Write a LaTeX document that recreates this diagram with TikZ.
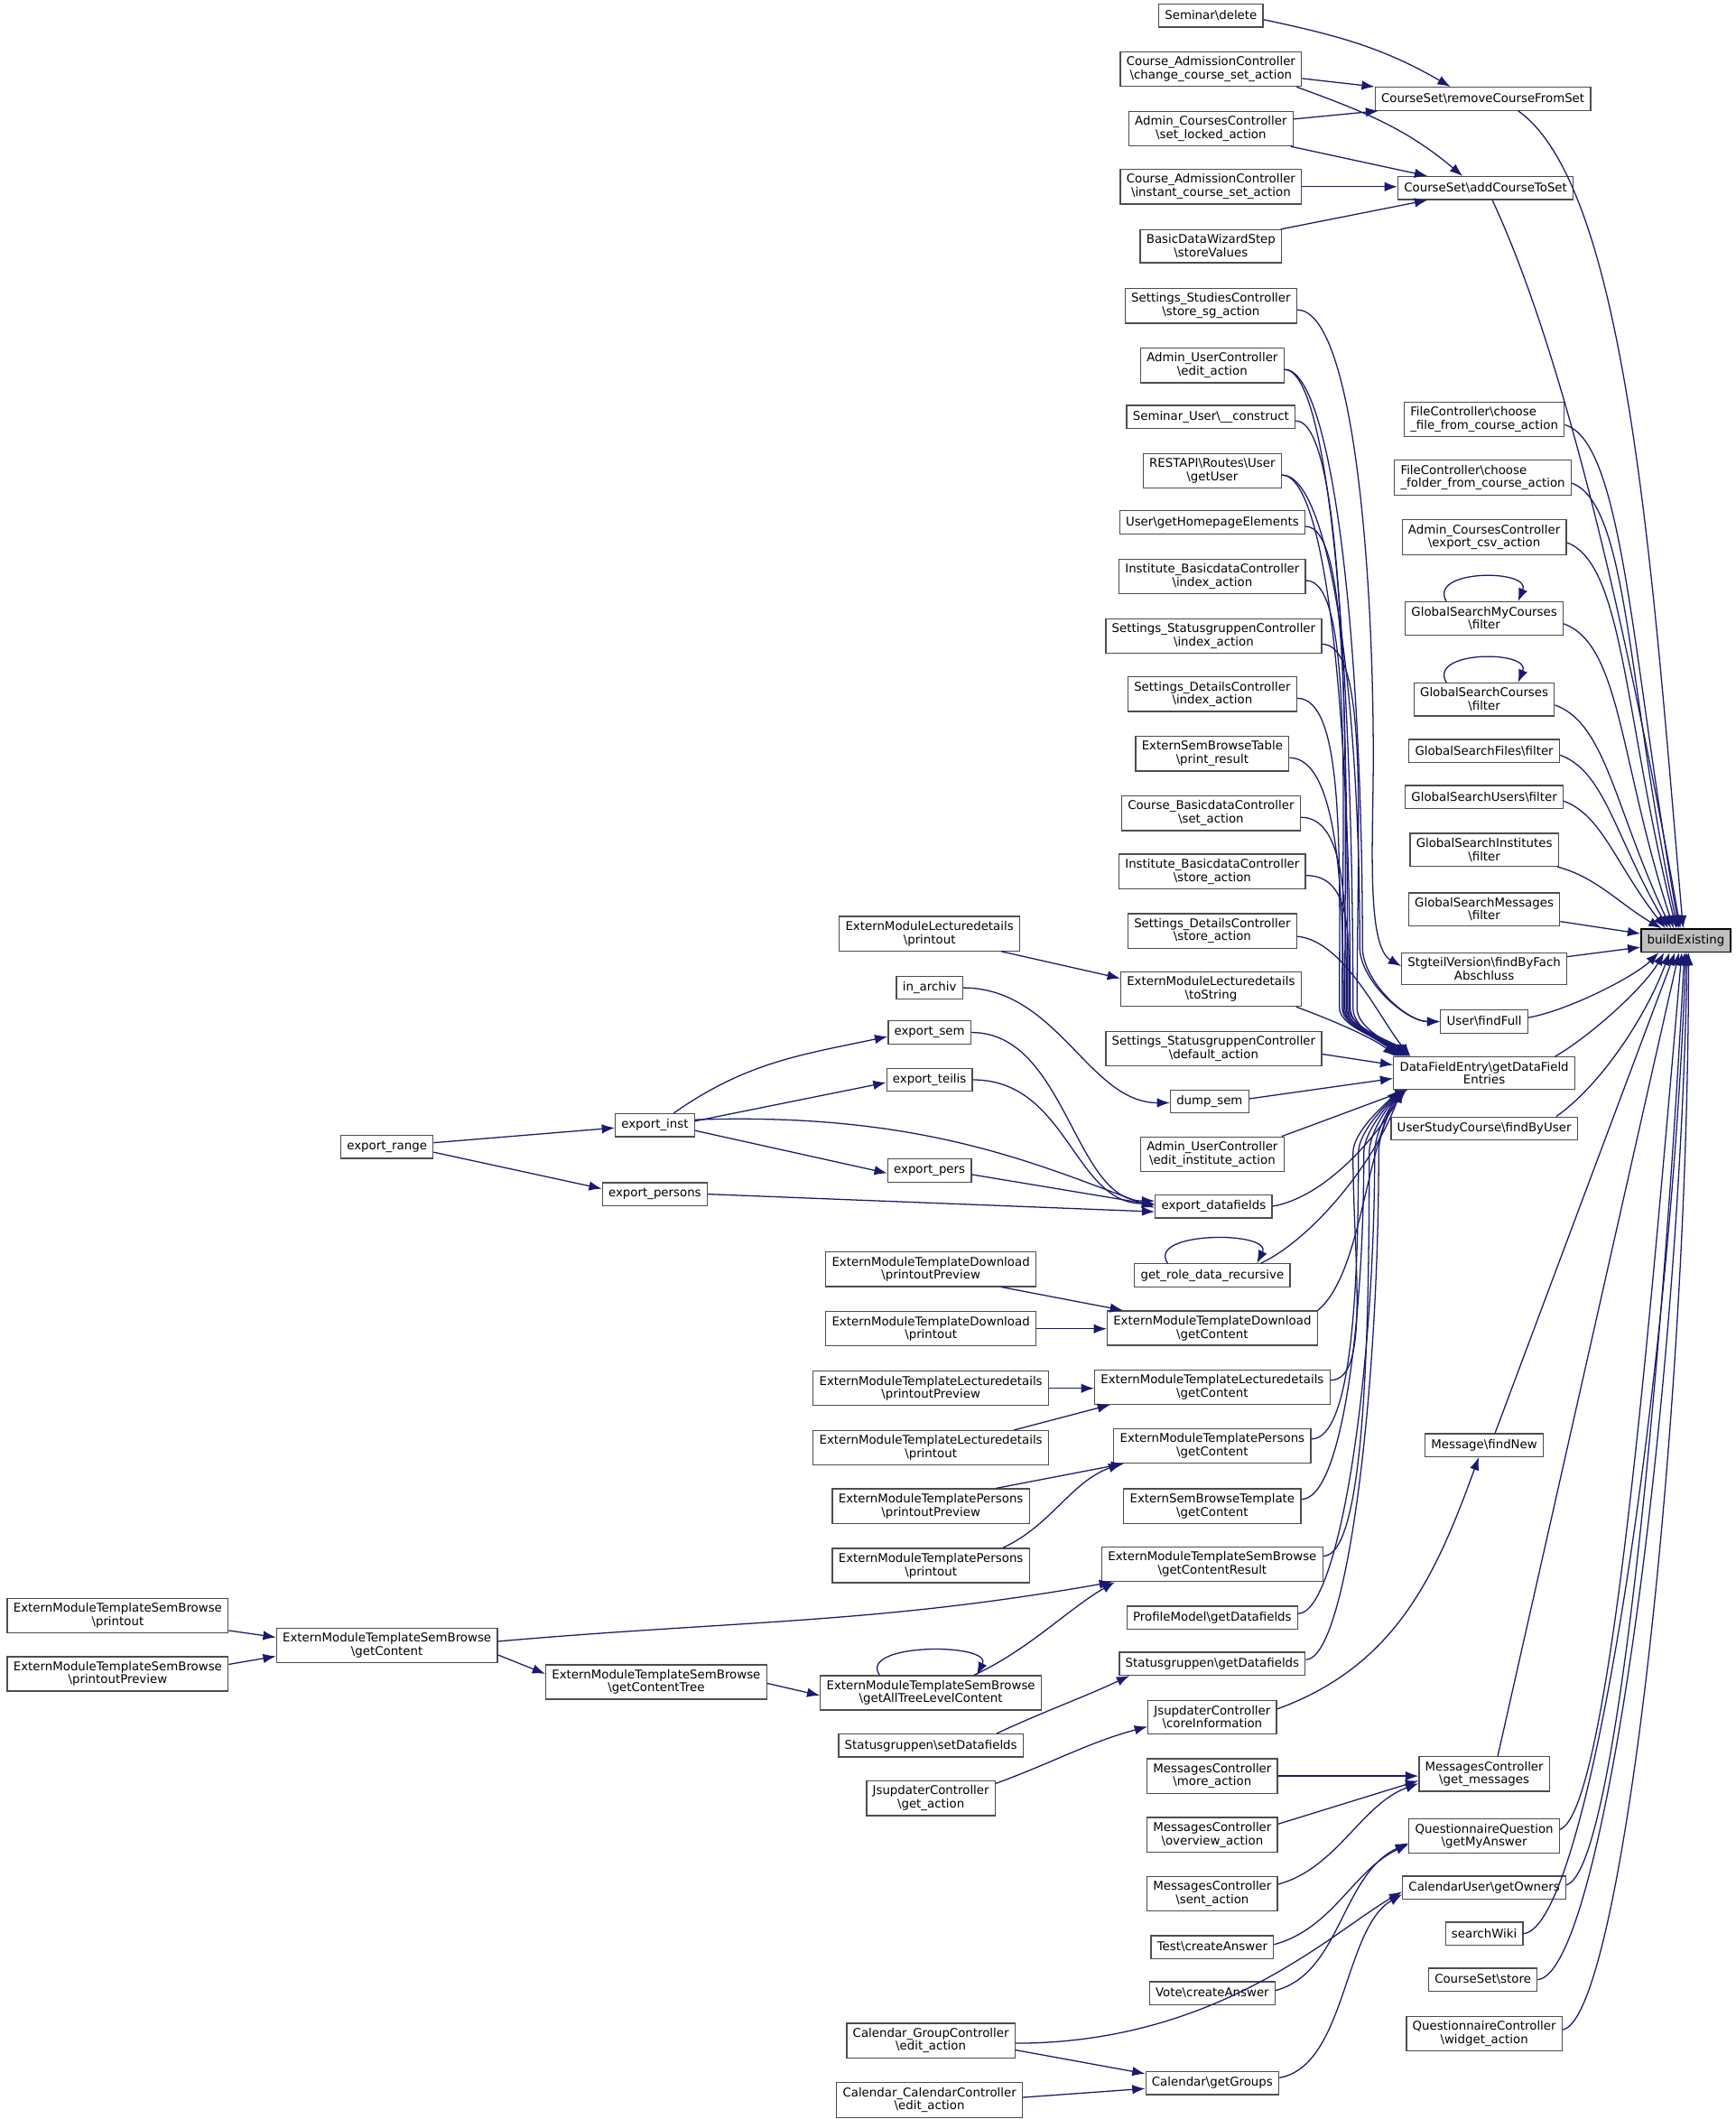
\documentclass[tikz,border=0pt]{standalone}
\usepackage{fontspec}
\setmainfont{DejaVu Sans}
\usetikzlibrary{arrows.meta}
\definecolor{edgec}{HTML}{191970}
\definecolor{bordc}{HTML}{4D4D4D}
\definecolor{hlfill}{HTML}{BFBFBF}
\newcommand{\bsl}{\textbackslash}
\newcommand{\DnEdge}[4]{\draw[edge] #1 to[out=0,in=90,out distance=35pt,in distance=#4] (#2,-745) to[out=-90,in=135,out distance=15pt,in distance=14pt] #3;}
\newcommand{\UpEdge}[4]{\draw[edge] #1 to[out=0,in=-90,out distance=30pt,in distance=#4] (#2,-852) to[out=90,in=-135,out distance=16pt,in distance=14pt] #3;}
\begin{document}
\begin{tikzpicture}[x=1pt,y=1pt,
  box/.style={draw=bordc,line width=0.85pt,fill=white,align=center,inner xsep=4.5pt,inner ysep=3.5pt,minimum height=17pt,font=\fontsize{8.9}{9.8}\selectfont},
  hl/.style={box,draw=black,fill=hlfill},
  edge/.style={draw=edgec,line width=0.85pt,-{Latex[length=9.5pt,width=7pt]}}]
\fill[white] (0,0) rectangle (1283,-1566);
\path[use as bounding box] (0,0) rectangle (1283,-1566);

% target
\node[hl] (bE) at (1246,-695) {buildExisting};

% column C
\node[box] (rcs) at (1096,-73) {CourseSet\bsl removeCourseFromSet};
\node[box] (acs) at (1098,-139) {CourseSet\bsl addCourseToSet};
\node[box,align=left] (fc1) at (1097,-310) {FileController\bsl choose\\\_file\_from\_course\_action};
\node[box,align=left] (fc2) at (1096,-353) {FileController\bsl choose\\\_folder\_from\_course\_action};
\node[box] (acc) at (1097,-397) {Admin\_CoursesController\\\bsl export\_csv\_action};
\node[box] (gsmc) at (1097,-457) {GlobalSearchMyCourses\\\bsl filter};
\node[box] (gsc) at (1097,-517) {GlobalSearchCourses\\\bsl filter};
\node[box] (gsf) at (1097,-555) {GlobalSearchFiles\bsl filter};
\node[box] (gsu) at (1097,-589) {GlobalSearchUsers\bsl filter};
\node[box] (gsi) at (1097,-628) {GlobalSearchInstitutes\\\bsl filter};
\node[box] (gsm) at (1097,-672) {GlobalSearchMessages\\\bsl filter};
\node[box] (stg) at (1097,-716) {StgteilVersion\bsl findByFach\\Abschluss};
\node[box] (uff) at (1097,-755) {User\bsl findFull};
\node[box] (dfe) at (1097,-793) {DataFieldEntry\bsl getDataField\\Entries};
\node[box] (usc) at (1097,-834) {UserStudyCourse\bsl findByUser};
\node[box] (mfn) at (1097,-1068) {Message\bsl findNew};
\node[box] (mgm) at (1097,-1311) {MessagesController\\\bsl get\_messages};
\node[box] (qqa) at (1097,-1357) {QuestionnaireQuestion\\\bsl getMyAnswer};
\node[box] (cuo) at (1097,-1395) {CalendarUser\bsl getOwners};
\node[box] (swk) at (1097,-1429) {searchWiki};
\node[box] (css) at (1096,-1463) {CourseSet\bsl store};
\node[box] (qcw) at (1097,-1503) {QuestionnaireController\\\bsl widget\_action};

% column B
\node[box] (sdel) at (895,-11.5) {Seminar\bsl delete};
\node[box] (cacs) at (895,-51) {Course\_AdmissionController\\\bsl change\_course\_set\_action};
\node[box] (acsl) at (895,-95) {Admin\_CoursesController\\\bsl set\_locked\_action};
\node[box] (caic) at (895,-138) {Course\_AdmissionController\\\bsl instant\_course\_set\_action};
\node[box] (bdw) at (895,-182) {BasicDataWizardStep\\\bsl storeValues};
\node[box] (ssg) at (895,-226) {Settings\_StudiesController\\\bsl store\_sg\_action};
\node[box] (aue) at (896,-270) {Admin\_UserController\\\bsl edit\_action};
\node[box] (suc) at (895,-308) {Seminar\_User\bsl\_\_construct};
\node[box] (rgu) at (896,-348) {RESTAPI\bsl Routes\bsl User\\\bsl getUser};
\node[box] (uhe) at (896,-386) {User\bsl getHomepageElements};
\node[box] (ibi) at (896,-426) {Institute\_BasicdataController\\\bsl index\_action};
\node[box] (ssi) at (897,-470) {Settings\_StatusgruppenController\\\bsl index\_action};
\node[box] (sdi) at (896,-513) {Settings\_DetailsController\\\bsl index\_action};
\node[box] (esp) at (896,-557) {ExternSemBrowseTable\\\bsl print\_result};
\node[box] (cbs) at (895,-601) {Course\_BasicdataController\\\bsl set\_action};
\node[box] (ibs) at (896,-644) {Institute\_BasicdataController\\\bsl store\_action};
\node[box] (sds) at (896,-688) {Settings\_DetailsController\\\bsl store\_action};
\node[box] (eld) at (895,-731) {ExternModuleLecturedetails\\\bsl toString};
\node[box] (ssd) at (897,-775) {Settings\_StatusgruppenController\\\bsl default\_action};
\node[box] (dsem) at (894,-814) {dump\_sem};
\node[box] (aui) at (896,-853) {Admin\_UserController\\\bsl edit\_institute\_action};
\node[box] (edf) at (897,-891.5) {export\_datafields};
\node[box] (grd) at (896,-942.5) {get\_role\_data\_recursive};
\node[box] (emtd) at (896,-981.5) {ExternModuleTemplateDownload\\\bsl getContent};
\node[box] (emtl) at (896,-1025) {ExternModuleTemplateLecturedetails\\\bsl getContent};
\node[box] (emtp) at (896,-1068.5) {ExternModuleTemplatePersons\\\bsl getContent};
\node[box] (esbt) at (896,-1113) {ExternSemBrowseTemplate\\\bsl getContent};
\node[box] (sbr) at (896,-1156) {ExternModuleTemplateSemBrowse\\\bsl getContentResult};
\node[box] (pmg) at (896,-1195.5) {ProfileModel\bsl getDatafields};
\node[box] (sgg) at (896,-1229.5) {Statusgruppen\bsl getDatafields};
\node[box] (jci) at (896,-1269) {JsupdaterController\\\bsl coreInformation};
\node[box] (mma) at (896,-1312.5) {MessagesController\\\bsl more\_action};
\node[box] (moa) at (896,-1356) {MessagesController\\\bsl overview\_action};
\node[box] (msa) at (896,-1399.5) {MessagesController\\\bsl sent\_action};
\node[box] (tca) at (896,-1439) {Test\bsl createAnswer};
\node[box] (vca) at (896,-1473) {Vote\bsl createAnswer};
\node[box] (cgg) at (896,-1539.5) {Calendar\bsl getGroups};

% column A
\node[box] (eldp) at (687,-690) {ExternModuleLecturedetails\\\bsl printout};
\node[box] (ina) at (687,-730) {in\_archiv};
\node[box] (exs) at (687,-763) {export\_sem};
\node[box] (ext) at (687,-798) {export\_teilis};
\node[box] (exp) at (687,-865) {export\_pers};
\node[box] (emtdpp) at (688,-938) {ExternModuleTemplateDownload\\\bsl printoutPreview};
\node[box] (emtdp) at (688,-982) {ExternModuleTemplateDownload\\\bsl printout};
\node[box] (emtlpp) at (688,-1026) {ExternModuleTemplateLecturedetails\\\bsl printoutPreview};
\node[box] (emtlp) at (688,-1070) {ExternModuleTemplateLecturedetails\\\bsl printout};
\node[box] (emtppp) at (688,-1113) {ExternModuleTemplatePersons\\\bsl printoutPreview};
\node[box] (emtpp) at (688,-1157) {ExternModuleTemplatePersons\\\bsl printout};
\node[box] (sbat) at (688,-1251) {ExternModuleTemplateSemBrowse\\\bsl getAllTreeLevelContent};
\node[box] (sgs) at (688,-1290) {Statusgruppen\bsl setDatafields};
\node[box] (jga) at (688,-1329) {JsupdaterController\\\bsl get\_action};
\node[box] (cge) at (688,-1508) {Calendar\_GroupController\\\bsl edit\_action};
\node[box] (cce) at (687,-1552) {Calendar\_CalendarController\\\bsl edit\_action};

% further left
\node[box] (exi) at (484,-831.5) {export\_inst};
\node[box] (expe) at (484,-882.5) {export\_persons};
\node[box] (sbt) at (485,-1243) {ExternModuleTemplateSemBrowse\\\bsl getContentTree};
\node[box] (sbg) at (286,-1216) {ExternModuleTemplateSemBrowse\\\bsl getContent};
\node[box] (exr) at (286,-847.5) {export\_range};
\node[box] (sbp) at (87,-1194) {ExternModuleTemplateSemBrowse\\\bsl printout};
\node[box] (sbpp) at (87,-1237) {ExternModuleTemplateSemBrowse\\\bsl printoutPreview};

% ---- top cluster
\draw[edge] ([yshift=-3pt]sdel.east) to[out=-12,in=150] ([xshift=-24pt]rcs.north);
\draw[edge] ([yshift=-7pt]cacs.east) -- (rcs.north west);
\draw[edge] ([xshift=-4pt]cacs.south east) to[out=-20,in=140] ([xshift=-17pt]acs.north);
\draw[edge] ([yshift=7pt]acsl.east) -- ([xshift=3pt]rcs.south west);
\draw[edge] ([xshift=-2pt]acsl.south east) -- ([xshift=-43pt]acs.north);
\draw[edge] (caic.east) -- (caic.east -| acs.west);
\draw[edge] ([xshift=-1pt]bdw.north east) -- ([xshift=-43pt]acs.south);

% ---- into buildExisting from above
\draw[edge] ([xshift=26pt]rcs.south) to[out=-35,in=95,out distance=100pt,in distance=250pt] ([xshift=-2pt]bE.north);
\draw[edge] ([xshift=5pt]acs.south) to[out=-65,in=100,out distance=150pt,in distance=150pt] ([xshift=-4pt]bE.north);
\draw[edge] ([yshift=-4pt]fc1.east) to[out=-15,in=100,out distance=45pt,in distance=200pt] ([xshift=-5pt]bE.north);
\draw[edge] ([yshift=-4pt]fc2.east) to[out=-20,in=102,out distance=45pt,in distance=180pt] ([xshift=-6pt]bE.north);
\draw[edge] ([yshift=-4pt]acc.east) to[out=-20,in=104,out distance=45pt,in distance=160pt] ([xshift=-7pt]bE.north);
\draw[edge] ([yshift=-4pt]gsmc.east) to[out=-20,in=108,out distance=45pt,in distance=130pt] ([xshift=-9pt]bE.north);
\draw[edge] ([yshift=-4pt]gsc.east) to[out=-20,in=115,out distance=40pt,in distance=100pt] ([xshift=-11pt]bE.north);
\draw[edge] ([yshift=-3pt]gsf.east) to[out=-20,in=120,out distance=35pt,in distance=80pt] ([xshift=-13pt]bE.north);
\draw[edge] ([yshift=-3pt]gsu.east) to[out=-20,in=128,out distance=30pt,in distance=60pt] ([xshift=-15pt]bE.north);
\draw[edge] ([xshift=-1pt]gsi.south east) to[out=-15,in=150,out distance=30pt,in distance=35pt] ([xshift=-18pt]bE.north);
\draw[edge] ([yshift=-9pt]gsm.east) -- ([yshift=5pt]bE.west);
\draw[edge] ([yshift=9pt]stg.east) -- ([yshift=-5pt]bE.west);

% ---- into buildExisting from below
\draw[edge] ([yshift=3pt]uff.east) to[out=10,in=-135,out distance=30pt,in distance=25pt] ([xshift=-20pt]bE.south);
\draw[edge] ([xshift=-15pt]dfe.north east) to[out=30,in=-120,out distance=30pt,in distance=30pt] ([xshift=-16pt]bE.south);
\draw[edge] ([xshift=-16pt]usc.north east) to[out=35,in=-110,out distance=40pt,in distance=50pt] ([xshift=-12pt]bE.south);
\draw[edge] ([xshift=8pt]mfn.north) -- ([xshift=-8pt]bE.south);
\draw[edge] ([xshift=10pt]mgm.north) -- ([xshift=-5pt]bE.south);
\draw[edge] ([yshift=5pt]qqa.east) to[out=20,in=-95,out distance=40pt,in distance=250pt] ([xshift=-3pt]bE.south);
\draw[edge] ([yshift=2pt]cuo.east) to[out=15,in=-93,out distance=40pt,in distance=280pt] ([xshift=-1pt]bE.south);
\draw[edge] (swk.east) to[out=5,in=-92,out distance=50pt,in distance=300pt] (bE.south);
\draw[edge] (css.east) to[out=5,in=-91,out distance=50pt,in distance=320pt] ([xshift=1pt]bE.south);
\draw[edge] ([yshift=3pt]qcw.east) to[out=10,in=-90,out distance=45pt,in distance=340pt] ([xshift=2pt]bE.south);

% self loops
\draw[edge] ([xshift=-28pt]gsmc.north) .. controls +(-14,24) and +(10,24) .. ([xshift=25pt]gsmc.north);
\draw[edge] ([xshift=-28pt]gsc.north) .. controls +(-14,24) and +(10,24) .. ([xshift=25pt]gsc.north);
\draw[edge] ([xshift=-33pt]grd.north) .. controls +(-16,24) and +(12,24) .. ([xshift=33pt]grd.north);
\draw[edge] ([xshift=-38pt]sbat.north) .. controls +(-16,24) and +(12,24) .. ([xshift=34pt]sbat.north);

% ---- StgteilVersion and User\findFull
\draw[edge] ([yshift=-3pt]ssg.east) to[out=0,in=90,out distance=40pt,in distance=150pt] (1015,-560) to[out=-90,in=150,out distance=60pt,in distance=30pt] ([yshift=2pt]stg.west);
\draw[edge] ([yshift=-3pt]aue.east) to[out=0,in=90,out distance=35pt,in distance=230pt] (1007,-700) to[out=-90,in=180,out distance=25pt,in distance=25pt] (uff.west);
\draw[edge] ([yshift=-3pt]rgu.east) to[out=0,in=90,out distance=35pt,in distance=190pt] (1005,-700) to[out=-90,in=180,out distance=25pt,in distance=25pt] (uff.west);

% ---- into DataFieldEntry from above
\DnEdge{([yshift=-3pt]aue.east)}{1000}{([xshift=3pt]dfe.north west)}{235pt}
\DnEdge{([yshift=-3pt]suc.east)}{996}{([xshift=4pt]dfe.north west)}{215pt}
\DnEdge{([yshift=-3pt]rgu.east)}{998}{([xshift=5pt]dfe.north west)}{195pt}
\DnEdge{([yshift=-3pt]uhe.east)}{994}{([xshift=6pt]dfe.north west)}{175pt}
\DnEdge{([yshift=-3pt]ibi.east)}{992}{([xshift=7pt]dfe.north west)}{155pt}
\DnEdge{([yshift=-6pt]ssi.east)}{1003}{([xshift=8pt]dfe.north west)}{135pt}
\DnEdge{([yshift=-3pt]sdi.east)}{990}{([xshift=9pt]dfe.north west)}{115pt}
\DnEdge{([yshift=-3pt]esp.east)}{993}{([xshift=10pt]dfe.north west)}{90pt}
\DnEdge{([yshift=-3pt]cbs.east)}{995}{([xshift=11pt]dfe.north west)}{70pt}
\DnEdge{([yshift=-3pt]ibs.east)}{997}{([xshift=12pt]dfe.north west)}{50pt}
\draw[edge] ([yshift=-4pt]sds.east) to[out=-5,in=130,out distance=35pt,in distance=35pt] ([xshift=13pt]dfe.north west);
\draw[edge] ([xshift=-4pt]eld.south east) to[out=-20,in=140,out distance=30pt,in distance=20pt] ([xshift=2pt]dfe.north west);
\draw[edge] ([yshift=-4pt]ssd.east) -- ([yshift=6pt]dfe.west);
\draw[edge] ([yshift=2pt]dsem.east) -- ([yshift=-4pt]dfe.west);

% ---- into DataFieldEntry from below
\draw[edge] ([xshift=-2pt]aui.north east) to[out=20,in=-160,out distance=35pt,in distance=25pt] ([xshift=11pt]dfe.south west);
\draw[edge] (edf.east) to[out=10,in=-120,out distance=40pt,in distance=40pt] ([xshift=8pt]dfe.south west);
\draw[edge] ([xshift=-22pt]grd.north east) to[out=25,in=-110,out distance=40pt,in distance=60pt] ([xshift=6pt]dfe.south west);
\draw[edge] (emtd.north east) to[out=40,in=-115,out distance=40pt,in distance=60pt] ([xshift=4pt]dfe.south west);
\UpEdge{([yshift=5pt]emtl.east)}{1000}{([xshift=5pt]dfe.south west)}{80pt}
\UpEdge{([yshift=5pt]emtp.east)}{1004}{([xshift=6pt]dfe.south west)}{100pt}
\UpEdge{([yshift=5pt]esbt.east)}{1008}{([xshift=7pt]dfe.south west)}{125pt}
\UpEdge{([yshift=6pt]sbr.east)}{1012}{([xshift=8pt]dfe.south west)}{145pt}
\UpEdge{([yshift=3pt]pmg.east)}{1016}{([xshift=9pt]dfe.south west)}{165pt}
\UpEdge{([yshift=3pt]sgg.east)}{1019}{([xshift=10pt]dfe.south west)}{180pt}

% ---- export cluster
\draw[edge] ([yshift=3pt]exr.east) -- ([yshift=-2pt]exi.west);
\draw[edge] ([yshift=-4pt]exr.east) -- ([yshift=4pt]expe.west);
\draw[edge] ([xshift=14pt]exi.north) to[out=35,in=-168] ([yshift=-3pt]exs.west);
\draw[edge] ([yshift=3pt]exi.east) -- ([yshift=-2pt]ext.west);
\draw[edge] ([yshift=-4pt]exi.east) -- ([yshift=-2pt]exp.west);
\draw[edge] ([yshift=4pt]exi.east) to[out=2,in=160,out distance=170pt,in distance=90pt] ([yshift=-1pt]edf.west);
\draw[edge] (expe.east) -- ([yshift=-4pt]edf.west);
\draw[edge] (exs.east) to[out=0,in=180,out distance=70pt,in distance=60pt] ([yshift=4pt]edf.west);
\draw[edge] (ext.east) to[out=0,in=180,out distance=70pt,in distance=60pt] ([yshift=2pt]edf.west);
\draw[edge] ([yshift=-3pt]exp.east) -- ([yshift=1pt]edf.west);
\draw[edge] (ina.east) to[out=0,in=180,out distance=70pt,in distance=60pt] ([yshift=-1pt]dsem.west);
\draw[edge] ([xshift=-14pt]eldp.south east) -- ([yshift=8pt]eld.west);

% ---- extern module templates
\draw[edge] ([xshift=-26pt]emtdpp.south east) -- ([xshift=12pt]emtd.north west);
\draw[edge] (emtdp.east) -- (emtdp.east -| emtd.west);
\draw[edge] (emtlpp.east) -- (emtlpp.east -| emtl.west);
\draw[edge] ([xshift=-26pt]emtlp.north east) -- ([xshift=12pt]emtl.south west);
\draw[edge] ([xshift=-25pt]emtppp.north east) -- ([xshift=8pt]emtp.south west);
\draw[edge] ([xshift=-20pt]emtpp.north east) to[out=25,in=-160,out distance=40pt,in distance=40pt] ([xshift=6pt]emtp.south west);
\draw[edge] ([yshift=-11pt]sbp.east) -- ([yshift=6pt]sbg.west);
\draw[edge] ([yshift=7pt]sbpp.east) -- ([yshift=-8pt]sbg.west);
\draw[edge] ([yshift=3pt]sbg.east) to[out=5,in=-170] ([xshift=8pt]sbr.south west);
\draw[edge] ([yshift=-7pt]sbg.east) -- ([yshift=6pt]sbt.west);
\draw[edge] ([yshift=-1pt]sbt.east) -- ([yshift=-2pt]sbat.west);
\draw[edge] ([xshift=-50pt]sbat.north east) to[out=25,in=-150,out distance=45pt,in distance=40pt] ([xshift=10pt]sbr.south west);
\draw[edge] ([xshift=-20pt]sgs.north east) to[out=25,in=-155,out distance=40pt,in distance=40pt] ([xshift=8pt]sgg.south west);
\draw[edge] ([yshift=11pt]jga.east) to[out=20,in=-165,out distance=45pt,in distance=45pt] ([yshift=-7pt]jci.west);
\draw[edge] ([yshift=6pt]jci.east) to[out=20,in=-110] ([xshift=-4pt]mfn.south);

% ---- messages, questionnaire, calendar
\draw[edge] (mma.east) -- (mma.east -| mgm.west);
\draw[edge] ([yshift=8pt]moa.east) -- ([yshift=-5pt]mgm.west);
\draw[edge] ([yshift=7pt]msa.east) to[out=15,in=-160,out distance=45pt,in distance=45pt] ([yshift=-7pt]mgm.west);
\draw[edge] ([yshift=2pt]tca.east) to[out=15,in=-155,out distance=45pt,in distance=45pt] ([yshift=-6pt]qqa.west);
\draw[edge] ([yshift=2pt]vca.east) to[out=15,in=-155,out distance=50pt,in distance=55pt] ([yshift=-5pt]qqa.west);
\draw[edge] ([yshift=-2pt]cge.east) to[out=0,in=-150,out distance=150pt,in distance=60pt] ([yshift=-3pt]cuo.west);
\draw[edge] ([yshift=-7pt]cge.east) -- ([yshift=7pt]cgg.west);
\draw[edge] ([yshift=2pt]cce.east) -- ([yshift=-4pt]cgg.west);
\draw[edge] ([yshift=4pt]cgg.east) to[out=10,in=-150,out distance=50pt,in distance=50pt] ([yshift=-5pt]cuo.west);
\end{tikzpicture}
\end{document}
